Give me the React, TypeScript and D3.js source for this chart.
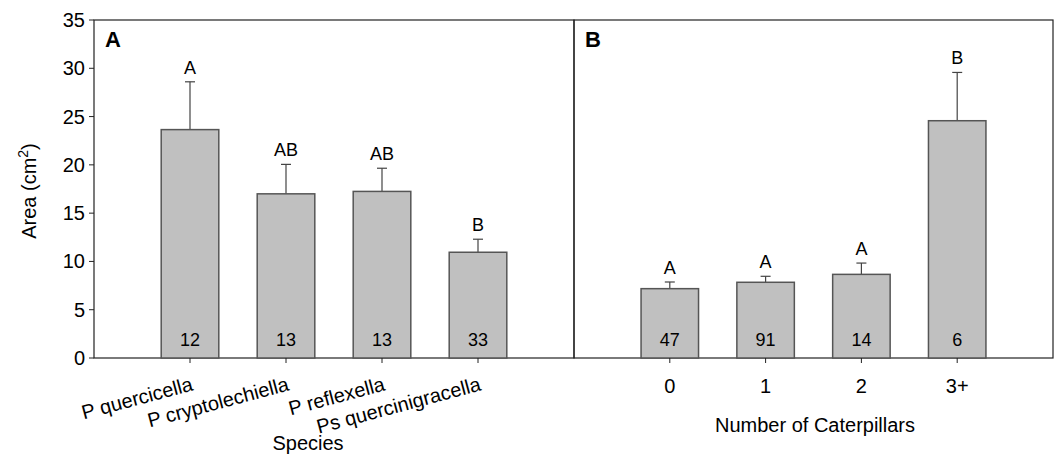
import React, { useEffect, useRef } from 'react';
import * as d3 from 'd3';

const speciesNames = ['P quercicella', 'P cryptolechiella', 'P reflexella', 'Ps quercinigracella'];
const speciesMeans = [23.65, 17.0, 17.25, 10.95];
const speciesErr = [4.95, 3.05, 2.4, 1.35];
const speciesN = ['12', '13', '13', '33'];
const speciesLetters = ['A', 'AB', 'AB', 'B'];

const caterpillarCats = ['0', '1', '2', '3+'];
const caterpillarMeans = [7.18, 7.84, 8.66, 24.57];
const caterpillarErr = [0.69, 0.62, 1.17, 5.0];
const caterpillarN = ['47', '91', '14', '6'];
const caterpillarLetters = ['A', 'A', 'A', 'B'];

const yTicks = [0, 5, 10, 15, 20, 25, 30, 35];

const W = 1056;
const H = 454;
const top = 20;
const bottom = 358;
const font = '"Liberation Sans", Arial, sans-serif';

export default function App() {
  const svgRef = useRef<SVGSVGElement>(null);

  useEffect(() => {
    if (!svgRef.current) return;
    const svg = d3.select(svgRef.current);
    svg.selectAll('*').remove();

    const y = d3.scaleLinear().domain([0, 35]).range([bottom, top]);

    const drawPanel = (
      x0: number,
      x1: number,
      label: string,
      cats: string[],
      means: number[],
      errs: number[],
      ns: string[],
      letters: string[],
      rotated: boolean,
    ) => {
      const x = d3.scaleLinear().domain([0, cats.length + 1]).range([x0, x1]);
      const step = x(1) - x(0);
      const bw = step * 0.6;
      const g = svg.append('g');

      // frame
      g.append('rect')
        .attr('x', x0).attr('y', top)
        .attr('width', x1 - x0).attr('height', bottom - top)
        .attr('fill', 'none').attr('stroke', '#222').attr('stroke-width', 1.2);

      g.append('text')
        .attr('x', x0 + 11).attr('y', top + 27)
        .attr('font-family', font).attr('font-weight', 'bold').attr('font-size', 22)
        .text(label);

      const idx = d3.range(cats.length);

      // error bars
      idx.forEach((i) => {
        const cx = x(i + 1);
        g.append('line')
          .attr('x1', cx).attr('x2', cx)
          .attr('y1', y(means[i])).attr('y2', y(means[i] + errs[i]))
          .attr('stroke', '#444').attr('stroke-width', 1.2);
        g.append('line')
          .attr('x1', cx - 5).attr('x2', cx + 5)
          .attr('y1', y(means[i] + errs[i])).attr('y2', y(means[i] + errs[i]))
          .attr('stroke', '#444').attr('stroke-width', 1.2);
        g.append('text')
          .attr('x', cx).attr('y', y(means[i] + errs[i]) - 8)
          .attr('text-anchor', 'middle')
          .attr('font-family', font).attr('font-size', 18)
          .text(letters[i]);
      });

      // bars
      g.selectAll('rect.bar')
        .data(idx)
        .join('rect')
        .attr('class', 'bar')
        .attr('x', (i) => x(i + 1) - bw / 2)
        .attr('width', bw)
        .attr('y', (i) => y(means[i]))
        .attr('height', (i) => y(0) - y(means[i]))
        .attr('fill', '#c0c0c0')
        .attr('stroke', '#555')
        .attr('stroke-width', 1.5);

      // counts
      idx.forEach((i) => {
        g.append('text')
          .attr('x', x(i + 1)).attr('y', bottom - 12)
          .attr('text-anchor', 'middle')
          .attr('font-family', font).attr('font-size', 18)
          .text(ns[i]);
      });

      // x ticks
      idx.forEach((i) => {
        const cx = x(i + 1);
        g.append('line')
          .attr('x1', cx).attr('x2', cx)
          .attr('y1', bottom).attr('y2', bottom + 5)
          .attr('stroke', '#222');
        if (rotated) {
          g.append('text')
            .attr('transform', `translate(${cx + 4},${bottom + 32}) rotate(-15)`)
            .attr('text-anchor', 'end')
            .attr('font-family', font).attr('font-size', 20)
            .text(cats[i]);
        } else {
          g.append('text')
            .attr('x', cx).attr('y', bottom + 35)
            .attr('text-anchor', 'middle')
            .attr('font-family', font).attr('font-size', 20)
            .text(cats[i]);
        }
      });
    };

    drawPanel(94, 574, 'A', speciesNames, speciesMeans, speciesErr, speciesN, speciesLetters, true);
    drawPanel(574, 1053, 'B', caterpillarCats, caterpillarMeans, caterpillarErr, caterpillarN, caterpillarLetters, false);

    // y axis on left panel
    const yAxis = svg.append('g').attr('transform', 'translate(94,0)');
    yTicks.forEach((t) => {
      yAxis.append('line')
        .attr('x1', -5).attr('x2', 0)
        .attr('y1', y(t)).attr('y2', y(t))
        .attr('stroke', '#222');
      yAxis.append('text')
        .attr('x', -9).attr('y', y(t) + 7)
        .attr('text-anchor', 'end')
        .attr('font-family', font).attr('font-size', 20)
        .text(String(t));
    });

    const yt = svg.append('text')
      .attr('transform', `translate(36,${(top + bottom) / 2 + 2}) rotate(-90)`)
      .attr('text-anchor', 'middle')
      .attr('font-family', font).attr('font-size', 20);
    yt.append('tspan').text('Area (cm');
    yt.append('tspan').attr('font-size', 14).attr('dy', -8).text('2');
    yt.append('tspan').attr('dy', 8).text(')');

    svg.append('text')
      .attr('x', 308).attr('y', 450)
      .attr('text-anchor', 'middle')
      .attr('font-family', font).attr('font-size', 20)
      .text('Species');

    svg.append('text')
      .attr('x', 815).attr('y', 432)
      .attr('text-anchor', 'middle')
      .attr('font-family', font).attr('font-size', 20)
      .text('Number of Caterpillars');
  }, []);

  return (
    <svg
      ref={svgRef}
      width={W}
      height={H}
      style={{ position: 'absolute', left: 0, top: 0, background: '#fff' }}
    />
  );
}
